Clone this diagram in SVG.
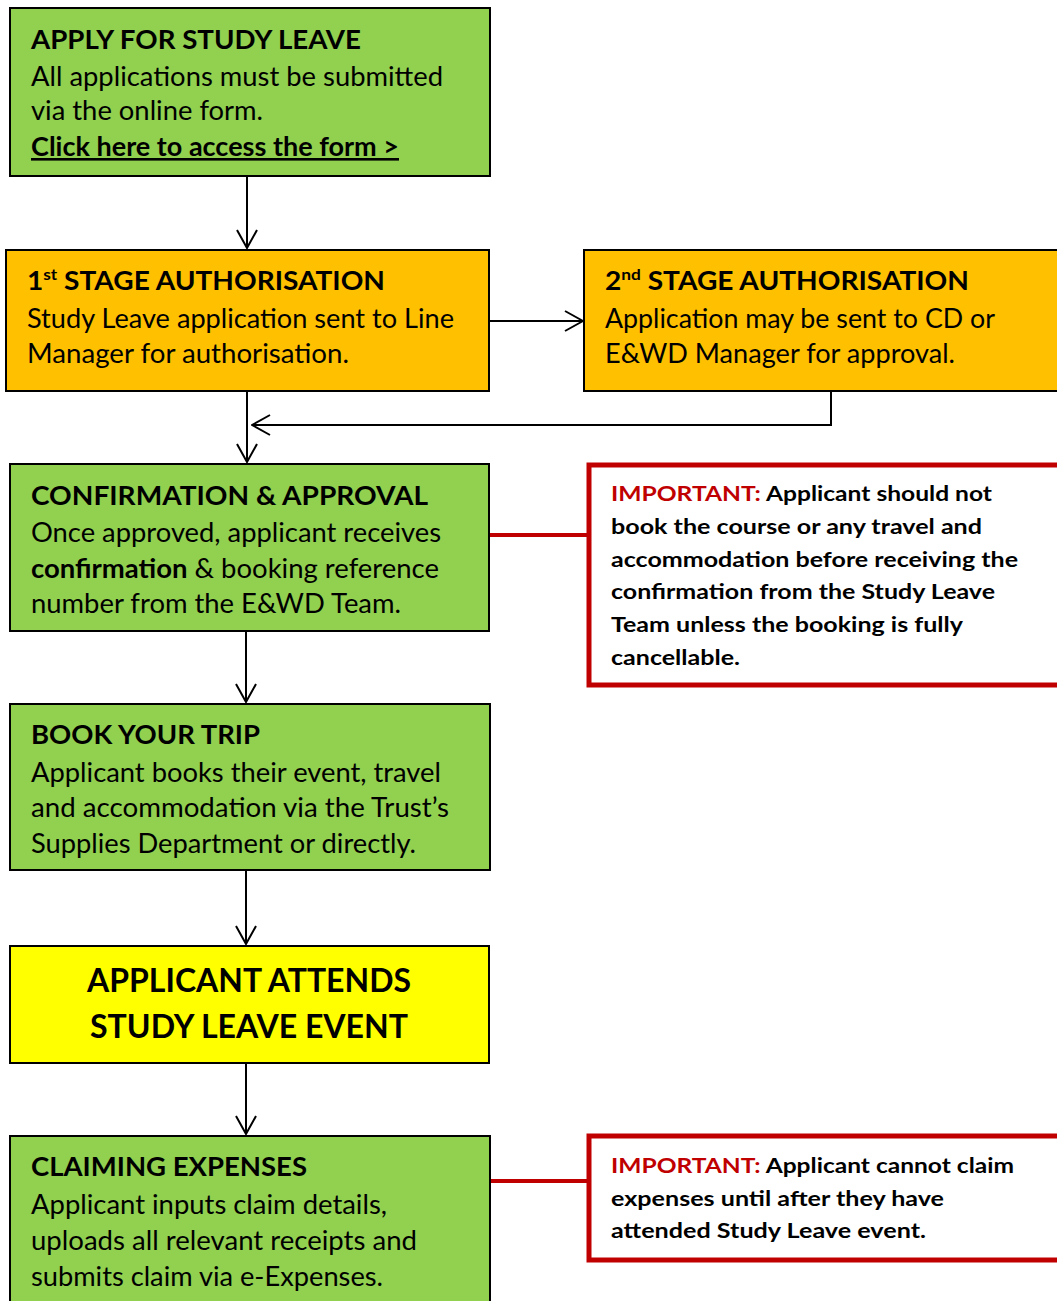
<svg xmlns="http://www.w3.org/2000/svg" width="1057" height="1301" viewBox="0 0 1057 1301">
<style>
text{font-family:Lato,"Open Sans","Liberation Sans",sans-serif;fill:#000}
.h{font-size:26px;font-weight:bold}
.b{font-size:26px}
.y{font-size:32px;font-weight:bold}
.n{font-size:20px;font-weight:bold}
.r{fill:#C00000}
.g{fill:#92D050;stroke:#000;stroke-width:2}
.o{fill:#FFC000;stroke:#000;stroke-width:2}
.ye{fill:#FFFF00;stroke:#000;stroke-width:2}
.w{fill:#fff;stroke:#C00000;stroke-width:5}
.c{fill:none;stroke:#000;stroke-width:2}
.rc{fill:none;stroke:#C00000;stroke-width:4}
</style>
<defs>
<marker id="a" markerUnits="userSpaceOnUse" viewBox="0 0 20 22" refX="19" refY="11" markerWidth="20" markerHeight="22" orient="auto">
<path d="M1,1 L19,11 L1,21" fill="none" stroke="#000" stroke-width="2"/>
</marker>
</defs>
<g id="connectors">
<line class="c" x1="247" y1="176" x2="247" y2="248" marker-end="url(#a)"/>
<line class="c" x1="489" y1="321" x2="583" y2="321" marker-end="url(#a)"/>
<line class="c" x1="247" y1="391" x2="247" y2="462" marker-end="url(#a)"/>
<polyline class="c" points="831,391 831,425 252,425" marker-end="url(#a)"/>
<line class="c" x1="246" y1="631" x2="246" y2="702" marker-end="url(#a)"/>
<line class="c" x1="246" y1="870" x2="246" y2="944" marker-end="url(#a)"/>
<line class="c" x1="246" y1="1063" x2="246" y2="1134" marker-end="url(#a)"/>
<line class="rc" x1="489" y1="535" x2="587" y2="535"/>
<line class="rc" x1="490" y1="1181" x2="587" y2="1181"/>
</g>
<g id="apply">
<rect class="g" x="10" y="8" width="480" height="168"/>
<text class="h" x="31" y="49" textLength="330" lengthAdjust="spacingAndGlyphs">APPLY FOR STUDY LEAVE</text>
<text class="b" x="31" y="86" textLength="412" lengthAdjust="spacingAndGlyphs">All applications must be submitted</text>
<text class="b" x="31" y="120" textLength="232" lengthAdjust="spacingAndGlyphs">via the online form.</text>
<text class="h" x="31" y="156" textLength="368" lengthAdjust="spacingAndGlyphs" text-decoration="underline">Click here to access the form &gt;</text>
</g>
<g id="stage1">
<rect class="o" x="6" y="250" width="483" height="141"/>
<text class="h" x="27" y="290" textLength="358" lengthAdjust="spacingAndGlyphs">1<tspan font-size="16" dy="-10">st</tspan><tspan dy="10"> STAGE AUTHORISATION</tspan></text>
<text class="b" x="27" y="328" textLength="427" lengthAdjust="spacingAndGlyphs">Study Leave application sent to Line</text>
<text class="b" x="27" y="363" textLength="322" lengthAdjust="spacingAndGlyphs">Manager for authorisation.</text>
</g>
<g id="stage2">
<rect class="o" x="584" y="250" width="480" height="141"/>
<text class="h" x="605" y="290" textLength="364" lengthAdjust="spacingAndGlyphs">2<tspan font-size="16" dy="-10">nd</tspan><tspan dy="10"> STAGE AUTHORISATION</tspan></text>
<text class="b" x="605" y="328" textLength="390" lengthAdjust="spacingAndGlyphs">Application may be sent to CD or</text>
<text class="b" x="605" y="363" textLength="350" lengthAdjust="spacingAndGlyphs">E&amp;WD Manager for approval.</text>
</g>
<g id="confirmation">
<rect class="g" x="10" y="464" width="479" height="167"/>
<text class="h" x="31" y="505" textLength="397" lengthAdjust="spacingAndGlyphs">CONFIRMATION &amp; APPROVAL</text>
<text class="b" x="31" y="542" textLength="410" lengthAdjust="spacingAndGlyphs">Once approved, applicant receives</text>
<text class="b" x="31" y="578" textLength="408" lengthAdjust="spacingAndGlyphs"><tspan font-weight="bold">confirmation</tspan> &amp; booking reference</text>
<text class="b" x="31" y="613" textLength="370" lengthAdjust="spacingAndGlyphs">number from the E&amp;WD Team.</text>
</g>
<g id="important1">
<rect class="w" x="589" y="465" width="475" height="220"/>
<text class="n" x="611" y="501" textLength="381" lengthAdjust="spacingAndGlyphs"><tspan class="r">IMPORTANT:</tspan> Applicant should not</text>
<text class="n" x="611" y="534" textLength="371" lengthAdjust="spacingAndGlyphs">book the course or any travel and</text>
<text class="n" x="611" y="567" textLength="407" lengthAdjust="spacingAndGlyphs">accommodation before receiving the</text>
<text class="n" x="611" y="599" textLength="384" lengthAdjust="spacingAndGlyphs">confirmation from the Study Leave</text>
<text class="n" x="611" y="632" textLength="352" lengthAdjust="spacingAndGlyphs">Team unless the booking is fully</text>
<text class="n" x="611" y="665" textLength="129" lengthAdjust="spacingAndGlyphs">cancellable.</text>
</g>
<g id="book">
<rect class="g" x="10" y="704" width="480" height="166"/>
<text class="h" x="31" y="744" textLength="229" lengthAdjust="spacingAndGlyphs">BOOK YOUR TRIP</text>
<text class="b" x="31" y="782" textLength="410" lengthAdjust="spacingAndGlyphs">Applicant books their event, travel</text>
<text class="b" x="31" y="817" textLength="418" lengthAdjust="spacingAndGlyphs">and accommodation via the Trust’s</text>
<text class="b" x="31" y="853" textLength="385" lengthAdjust="spacingAndGlyphs">Supplies Department or directly.</text>
</g>
<g id="attends">
<rect class="ye" x="10" y="946" width="479" height="117"/>
<text class="y" x="249" y="992" text-anchor="middle" textLength="324" lengthAdjust="spacingAndGlyphs">APPLICANT ATTENDS</text>
<text class="y" x="249" y="1038" text-anchor="middle" textLength="318" lengthAdjust="spacingAndGlyphs">STUDY LEAVE EVENT</text>
</g>
<g id="claiming">
<rect class="g" x="10" y="1136" width="480" height="175"/>
<text class="h" x="31" y="1176" textLength="276" lengthAdjust="spacingAndGlyphs">CLAIMING EXPENSES</text>
<text class="b" x="31" y="1214" textLength="356" lengthAdjust="spacingAndGlyphs">Applicant inputs claim details,</text>
<text class="b" x="31" y="1250" textLength="386" lengthAdjust="spacingAndGlyphs">uploads all relevant receipts and</text>
<text class="b" x="31" y="1286" textLength="352" lengthAdjust="spacingAndGlyphs">submits claim via e-Expenses.</text>
</g>
<g id="important2">
<rect class="w" x="589" y="1136" width="475" height="124"/>
<text class="n" x="611" y="1173" textLength="403" lengthAdjust="spacingAndGlyphs"><tspan class="r">IMPORTANT:</tspan> Applicant cannot claim</text>
<text class="n" x="611" y="1206" textLength="333" lengthAdjust="spacingAndGlyphs">expenses until after they have</text>
<text class="n" x="611" y="1238" textLength="315" lengthAdjust="spacingAndGlyphs">attended Study Leave event.</text>
</g>
</svg>
